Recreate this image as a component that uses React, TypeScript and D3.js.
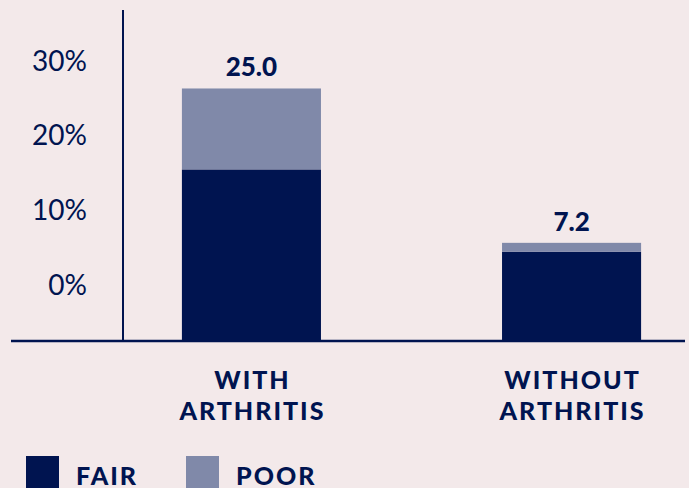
import React from "react";
import * as d3 from "d3";

const categories = ["WITH\nARTHRITIS", "WITHOUT\nARTHRITIS"];
const fairValues = [15.4, 4.4];
const poorValues = [10.8, 1.2];
const totalLabels = ["25.0", "7.2"];
const tickValues = [0, 10, 20, 30];
const seriesNames = ["FAIR", "POOR"];

const W = 689;
const H = 488;
const NAVY = "#001450";
const GREY = "#8089a9";
const BG = "#f3e9ea";

export default function App() {
  const x = d3
    .scaleBand<string>()
    .domain(categories)
    .range([123, 700])
    .paddingInner(0.5656)
    .paddingOuter(0.184);
  const y = d3.scaleLinear().domain([-7.5, 30]).range([341, 60]);
  const colors = d3.scaleOrdinal<string, string>().domain(seriesNames).range([NAVY, GREY]);

  const rows = categories.map((c, i) => ({ cat: c, FAIR: fairValues[i], POOR: poorValues[i] }));
  const layers = d3.stack<any>().keys(seriesNames)(rows);
  const floor = y.range()[0];
  const bottom = (v: number) => (v === 0 ? floor : y(v));

  const boldFont = "Lato, 'DejaVu Sans', sans-serif";

  return (
    <svg width={W} height={H} style={{ position: "absolute", left: 0, top: 0, background: BG }}>
      <rect x={0} y={0} width={W} height={H} fill={BG} />
      {layers.map((layer: any) => (
        <g key={layer.key} fill={colors(layer.key)}>
          {layer.map((d: any, i: number) => (
            <rect
              key={i}
              x={x(categories[i])}
              width={x.bandwidth()}
              y={y(d[1])}
              height={bottom(d[0]) - y(d[1])}
            />
          ))}
        </g>
      ))}
      {/* axes */}
      <line x1={123} x2={123} y1={10} y2={floor} stroke={NAVY} strokeWidth={2} />
      <line x1={11} x2={685} y1={floor} y2={floor} stroke={NAVY} strokeWidth={2.5} />
      {tickValues.map((t) => (
        <text
          key={t}
          x={87}
          y={y(t) + 10.5}
          textAnchor="end"
          fontFamily="Lato, sans-serif"
          fontSize={28}
          fill={NAVY}
        >
          {t + "%"}
        </text>
      ))}
      {/* totals */}
      {categories.map((c, i) => (
        <text
          key={c}
          x={(x(c) as number) + x.bandwidth() / 2}
          y={y(fairValues[i] + poorValues[i]) - 12}
          textAnchor="middle"
          fontFamily={boldFont}
          fontWeight={900}
          fontSize={26}
          fill={NAVY}
        >
          {totalLabels[i]}
        </text>
      ))}
      {/* category labels */}
      {categories.map((c) => (
        <text
          key={c}
          textAnchor="middle"
          fontFamily={boldFont}
          fontWeight={900}
          fontSize={25}
          letterSpacing={2}
          fill={NAVY}
        >
          {c.split("\n").map((line, j) => (
            <tspan key={j} x={(x(c) as number) + x.bandwidth() / 2 + 1} y={389 + j * 31}>
              {line}
            </tspan>
          ))}
        </text>
      ))}
      {/* legend */}
      {seriesNames.map((s, i) => (
        <g key={s} transform={`translate(${26 + i * 160},456)`}>
          <rect x={0} y={0} width={33} height={40} fill={colors(s)} />
          <text
            x={50}
            y={29}
            fontFamily={boldFont}
            fontWeight={900}
            fontSize={25}
            letterSpacing={2}
            fill={NAVY}
          >
            {s}
          </text>
        </g>
      ))}
    </svg>
  );
}
